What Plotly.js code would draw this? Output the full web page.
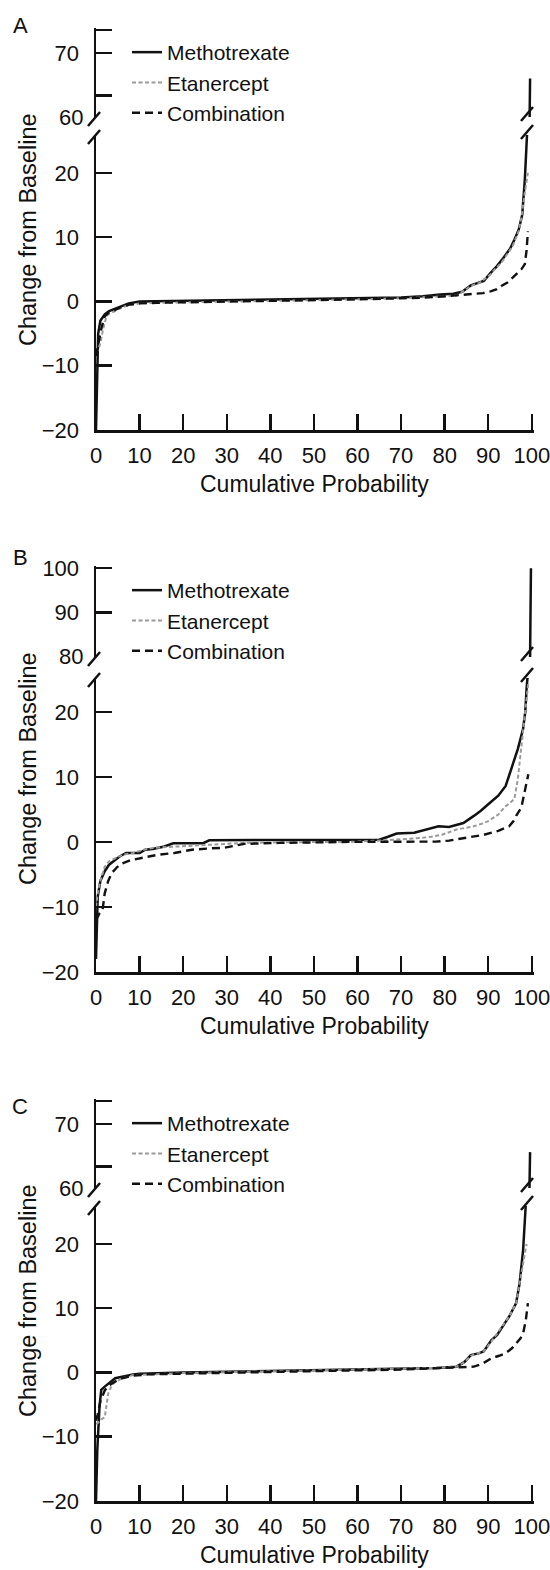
<!DOCTYPE html>
<html>
<head>
<meta charset="utf-8">
<script src="https://cdn.plot.ly/plotly-3.0.1.min.js"></script>
<style>html,body{margin:0;padding:0;background:#fff;}#chart{width:550px;height:1570px;}</style>
</head>
<body>
<div id="chart"></div>
<script>
// ---------------- data (cumulative probability %, change from baseline) ----------------
const seriesNames = ['Methotrexate', 'Etanercept', 'Combination'];
const panelLetters = ['A', 'B', 'C'];
const xTickVals = [0, 10, 20, 30, 40, 50, 60, 70, 80, 90, 100];
const lowerTickVals = [-20, -10, 0, 10, 20];
const upperTickValsA = [63.35, 70, 73.6];
const upperTickTextA = ['', '70', ''];
const upperTickValsB = [90, 100];
const upperTickTextB = ['90', '100'];
const upperTickValsC = [63.35, 70, 73.6];
const upperTickTextC = ['', '70', ''];
const breakLabelVals = [60, 80, 60];

// Panel A
const aMtxX = [0, 0.2, 0.5, 1, 2, 3, 5, 7.5, 10, 20, 34, 50, 58, 70, 75, 79, 82, 84, 86, 88, 89, 90.5, 92, 93.5, 95, 96, 97, 97.8, 98.4, 98.9, 99.5, 99.6];
const aMtxY = [-20, -12, -5, -3, -2, -1.5, -1, -0.3, 0, 0.1, 0.2, 0.3, 0.4, 0.6, 0.8, 1.1, 1.2, 1.5, 2.5, 3, 3.2, 4.4, 5.5, 6.8, 8.2, 9.6, 11.2, 13.5, 19, 26, 60, 66];
const aEtnX = [0, 0.5, 1, 1.6, 2.4, 3.2, 4.4, 6, 7, 10, 15, 26, 40, 58, 70, 75, 80, 82.7, 84, 86, 88, 89, 90.5, 91.5, 93, 94, 95.6, 97, 97.6, 98.4, 99.1];
const aEtnY = [-8, -7.5, -6.5, -4.4, -2.3, -1.8, -1.5, -0.9, -0.7, -0.3, -0.2, -0.1, 0.1, 0.3, 0.5, 0.7, 0.8, 0.9, 1.5, 2.4, 2.9, 3.4, 4.2, 5, 6, 7, 8.6, 11, 13, 17, 20];
const aCmbX = [0, 0.3, 0.8, 1.3, 2, 3, 4.4, 6, 7.7, 10, 14, 25, 34, 50, 58, 70, 75, 81, 84, 86.7, 88.8, 90.7, 92, 93, 94.5, 95.6, 96.6, 97.6, 98.4, 98.8, 99.1];
const aCmbY = [-8.5, -7.5, -5.5, -4, -2.3, -1.7, -1.3, -0.8, -0.5, -0.3, -0.2, -0.1, 0.05, 0.2, 0.3, 0.5, 0.6, 0.85, 1, 1.2, 1.3, 1.6, 1.9, 2.4, 3, 3.7, 4.3, 5, 5.8, 8, 10.9];

// Panel B
const bMtxX = [0, 0.2, 0.4, 1, 2, 3, 4.4, 5.5, 6.9, 10, 11.3, 13, 15.7, 17.7, 20, 24.6, 26, 40, 55, 65, 67, 69, 73, 76, 78.6, 81, 84.3, 86.7, 88.3, 90, 92.3, 94, 95.6, 96.8, 98, 98.5, 98.8, 99.1, 99.6, 99.8];
const bMtxY = [-18, -12, -8.4, -6, -4.5, -3.5, -2.7, -2.2, -1.7, -1.7, -1.2, -1.1, -0.7, -0.2, -0.2, -0.2, 0.25, 0.3, 0.3, 0.35, 0.8, 1.3, 1.4, 1.9, 2.4, 2.3, 2.9, 4, 4.8, 5.8, 7.1, 8.6, 11.7, 14.3, 17.4, 20, 23.6, 26, 80, 100];
const bEtnX = [0, 0.4, 1, 2, 3, 4.4, 6, 8.5, 11, 13.3, 16, 19.8, 26, 34, 45, 58, 66.5, 71, 74.6, 77, 79.4, 82.7, 86.7, 88.5, 90, 92.3, 94, 95, 96, 96.8, 97.6, 98.4, 98.8, 99.2];
const bEtnY = [-10, -7.9, -6, -3.8, -3, -2.5, -2, -1.7, -1.2, -0.9, -0.8, -0.7, -0.4, -0.15, -0.05, 0, 0.25, 0.4, 0.6, 0.8, 1.1, 1.9, 2.4, 2.8, 3.2, 4.2, 5.5, 6, 6.6, 9.7, 14.8, 20, 23, 24.5];
const bCmbX = [0, 0.8, 1.5, 2, 2.8, 3.6, 4.8, 6, 8, 10, 14, 18, 22, 26, 29.4, 34, 42, 58, 74.6, 78, 81, 85, 89, 92.3, 94.8, 95.8, 96.4, 97.6, 98.4, 99.2];
const bCmbY = [-12, -11, -10.5, -7.9, -6, -4.8, -3.9, -3.3, -2.8, -2.5, -2, -1.7, -1.2, -1, -0.9, -0.3, -0.15, 0, 0, 0.05, 0.2, 0.6, 1.1, 1.7, 2.4, 3.2, 4, 5.3, 7.6, 10.4];

// Panel C
const cMtxX = [0, 0.3, 0.8, 1.2, 2, 4.4, 8.5, 10, 20, 34, 50, 58, 70, 78, 82.7, 84.5, 86, 88, 89, 90.7, 92, 93, 94.8, 96.4, 97.2, 98, 98.6, 99.5, 99.6];
const cMtxY = [-20, -12, -5.4, -2.7, -2.2, -0.9, -0.3, -0.2, 0, 0.15, 0.3, 0.4, 0.5, 0.7, 0.9, 1.6, 2.7, 3, 3.3, 5, 5.8, 6.9, 8.7, 10.8, 13.9, 19, 26, 60, 65.6];
const cEtnX = [0, 0.5, 1.2, 2, 2.8, 3.6, 4.4, 6, 8.5, 12, 20, 34, 50, 70, 78, 82.7, 84.5, 86, 89, 90.7, 93, 94.8, 96.4, 97.2, 98, 98.8];
const cEtnY = [-8, -7.8, -7.3, -7, -3.3, -2, -1.5, -0.9, -0.4, -0.3, -0.1, 0.1, 0.3, 0.5, 0.7, 0.9, 1.6, 2.6, 3.3, 4.8, 6.9, 8.7, 10.8, 13.9, 17, 20];
const cCmbX = [0, 0.4, 1, 2, 3, 4.4, 6, 8.5, 12, 20, 34, 50, 70, 80, 86.7, 88.5, 90.7, 92.5, 94, 95.5, 96.4, 97.4, 98, 98.6, 99.1];
const cCmbY = [-7.5, -6.5, -4.5, -2.8, -2, -1.4, -0.9, -0.5, -0.3, -0.15, 0, 0.2, 0.45, 0.7, 0.9, 1.3, 2.2, 2.6, 3, 3.8, 4.6, 5.3, 6.1, 8, 10.8];

// ---------------- layout geometry (pixels) ----------------
const W = 550, H = 1570;
const FONT = '"Liberation Sans", Arial, Helvetica, sans-serif';
const X0PX = 96, X1PX = 534;
const X_RANGE = [0, 100.5];
const geo = [
  {lowerTop: 135, axisY: 430, lowerRange: [-20, 25.9], upTop: 28, upBot: 117, upRange: [60, 73.9],
   upTicks: upperTickValsA, upText: upperTickTextA, legTop: 32, letterY: 26, ytitleY: 230},
  {lowerTop: 678, axisY: 972, lowerRange: [-20, 25.2], upTop: 566, upBot: 657, upRange: [80, 100.5],
   upTicks: upperTickValsB, upText: upperTickTextB, legTop: 570, letterY: 557, ytitleY: 769},
  {lowerTop: 1206, axisY: 1501, lowerRange: [-20, 25.9], upTop: 1099, upBot: 1188, upRange: [60, 73.9],
   upTicks: upperTickValsC, upText: upperTickTextC, legTop: 1103, letterY: 1106, ytitleY: 1301}
];
const panelData = [
  [[aMtxX, aMtxY], [aEtnX, aEtnY], [aCmbX, aCmbY]],
  [[bMtxX, bMtxY], [bEtnX, bEtnY], [bCmbX, bCmbY]],
  [[cMtxX, cMtxY], [cEtnX, cEtnY], [cCmbX, cCmbY]]
];
const lineStyles = [
  {color: '#111111', width: 2.5, dash: 'solid'},
  {color: '#9a9a9a', width: 2, dash: '4px,2.5px'},
  {color: '#111111', width: 2.4, dash: '8px,5px'}
];

const py = p => 1 - p / H;
const pxx = p => p / W;

const traces = [];
const layout = {
  width: W, height: H,
  margin: {l: 0, r: 0, t: 0, b: 0},
  paper_bgcolor: '#fff', plot_bgcolor: 'rgba(0,0,0,0)',
  font: {family: FONT, color: '#111', size: 22},
  showlegend: true,
  annotations: [], shapes: []
};

const TICKFONT = {family: FONT, size: 22, color: '#111'};
const axisCommon = {
  showline: true, linewidth: 2.5, linecolor: '#111', showgrid: false, zeroline: false,
  ticks: 'inside', ticklen: 16, tickwidth: 2.5, tickcolor: '#111',
  tickfont: TICKFONT, fixedrange: true
};

geo.forEach((g, i) => {
  const xa = i === 0 ? 'x' : 'x' + (i + 1);
  const xaKey = i === 0 ? 'xaxis' : 'xaxis' + (i + 1);
  const yLo = 2 * i + 1, yUp = 2 * i + 2;
  const yLoId = yLo === 1 ? 'y' : 'y' + yLo;
  const yLoKey = yLo === 1 ? 'yaxis' : 'yaxis' + yLo;
  const legKey = i === 0 ? 'legend' : 'legend' + (i + 1);

  layout[xaKey] = Object.assign({}, axisCommon, {
    domain: [pxx(X0PX), pxx(X1PX)], range: X_RANGE, anchor: yLoId,
    tickmode: 'array', tickvals: xTickVals, ticklabelstandoff: 4, ticklabeloverflow: 'allow'
  });
  layout[yLoKey] = Object.assign({}, axisCommon, {
    domain: [py(g.axisY), py(g.lowerTop)], range: g.lowerRange, anchor: xa,
    tickmode: 'array', tickvals: lowerTickVals, ticklabelstandoff: 10
  });
  layout['yaxis' + yUp] = Object.assign({}, axisCommon, {
    domain: [py(g.upBot), py(g.upTop)], range: g.upRange, anchor: xa,
    tickmode: 'array', tickvals: g.upTicks, ticktext: g.upText, ticklabelstandoff: 10
  });

  panelData[i].forEach((s, k) => {
    traces.push({
      type: 'scatter', mode: 'lines', x: s[0], y: s[1], name: seriesNames[k],
      xaxis: xa, yaxis: yLoId, line: lineStyles[k], legend: legKey,
      legendgroup: 'p' + i + 's' + k, showlegend: true, hoverinfo: 'skip'
    });
    traces.push({
      type: 'scatter', mode: 'lines', x: s[0], y: s[1], name: seriesNames[k],
      xaxis: xa, yaxis: 'y' + yUp, line: lineStyles[k], legend: legKey,
      legendgroup: 'p' + i + 's' + k, showlegend: false, hoverinfo: 'skip'
    });
  });

  layout[legKey] = {
    x: pxx(127), y: py(g.legTop), xanchor: 'left', yanchor: 'top', xref: 'paper', yref: 'paper',
    bgcolor: 'rgba(0,0,0,0)', borderwidth: 0, font: {family: FONT, size: 21, color: '#111'},
    tracegroupgap: 0, itemwidth: 30, traceorder: 'grouped'
  };

  // break value label on upper axis (placed through the upper axis scale)
  layout.annotations.push({text: String(breakLabelVals[i]), xref: 'paper', yref: 'y' + yUp,
    x: pxx(X0PX - 11), y: breakLabelVals[i], showarrow: false, xanchor: 'right', yanchor: 'middle', font: TICKFONT});
  // panel letter
  layout.annotations.push({text: panelLetters[i], xref: 'paper', yref: 'paper', x: pxx(20), y: py(g.letterY),
    showarrow: false, xanchor: 'center', yanchor: 'middle', font: {family: FONT, size: 22, color: '#111'}});
  // y title
  layout.annotations.push({text: 'Change from Baseline', xref: 'paper', yref: 'paper', x: pxx(28), y: py(g.ytitleY),
    showarrow: false, textangle: -90, xanchor: 'center', yanchor: 'middle', font: {family: FONT, size: 23.5, color: '#111'}});
  // x title
  layout.annotations.push({text: 'Cumulative Probability', xref: 'paper', yref: 'paper', x: pxx(314), y: py(g.axisY + 54),
    showarrow: false, xanchor: 'center', yanchor: 'middle', font: {family: FONT, size: 23, color: '#111'}});

  // break marks (left axis and right data line)
  const slash = (cx, cy) => ({type: 'line', xref: 'paper', yref: 'paper', x0: pxx(cx - 6), y0: py(cy + 7), x1: pxx(cx + 6), y1: py(cy - 7),
    line: {color: '#111', width: 2.5}});
  layout.shapes.push(slash(X0PX - 2, g.upBot + 2));
  layout.shapes.push(slash(X0PX - 2, g.lowerTop + 2));
  layout.shapes.push(slash(527, g.upBot - 3));
  layout.shapes.push(slash(527, g.lowerTop - 3));
});

Plotly.newPlot('chart', traces, layout, {staticPlot: true, displayModeBar: false});
</script>
</body>
</html>
